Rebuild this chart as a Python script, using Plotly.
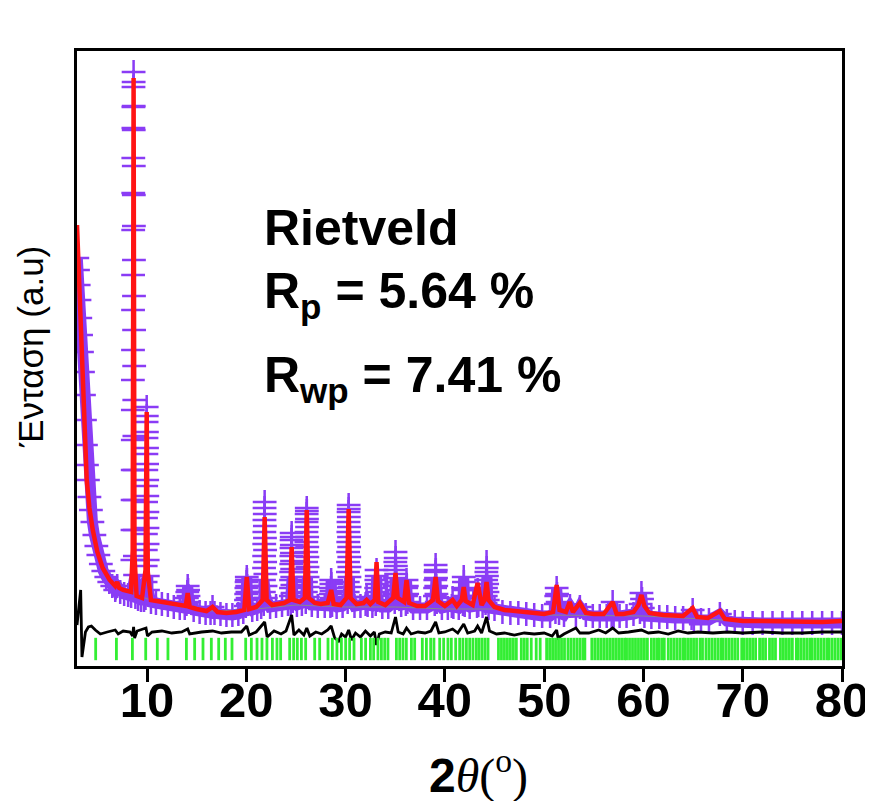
import plotly.graph_objects as go

# ---------------- data (2theta in degrees, intensity in arbitrary units) ----------------
calc_2theta = [2.95, 3.10, 3.30, 3.53, 3.75, 3.93, 4.20, 4.54, 5.00, 5.54, 6.24, 6.80, 7.00, 7.20, 7.60,
               8.00, 8.40, 8.56, 8.65, 8.74, 8.95, 9.50, 9.85, 9.97, 10.08, 10.40, 11.00, 12.00, 13.00,
               13.90, 14.10, 14.30, 15.00, 16.00, 16.60, 17.10, 18.00, 19.00, 19.80, 20.05, 20.30, 21.00,
               21.65, 21.85, 22.05, 22.60, 23.20, 23.80, 24.40, 24.57, 24.75, 25.40, 25.90, 26.09, 26.28,
               26.90, 27.50, 28.20, 28.55, 28.80, 29.50, 30.10, 30.31, 30.50, 31.10, 31.80, 32.12, 32.50,
               32.95, 33.12, 33.30, 34.00, 34.80, 35.03, 35.25, 35.90, 36.14, 36.40, 37.20, 38.00, 38.80,
               39.07, 39.30, 40.00, 40.78, 41.20, 41.70, 41.90, 42.10, 42.80, 43.30, 43.70, 44.00, 44.20,
               44.40, 45.00, 46.00, 47.00, 48.00, 49.00, 50.00, 50.90, 51.26, 51.55, 52.20, 52.57, 52.90,
               53.60, 54.20, 55.00, 56.00, 56.90, 57.30, 58.00, 59.00, 59.50, 59.80, 60.10, 60.60, 62.00,
               63.00, 64.00, 64.96, 65.40, 66.50, 67.70, 68.20, 70.00, 72.00, 75.00, 78.00, 80.00]
calc_intensity = [441, 398, 336, 286, 226, 186, 158, 136, 114, 98, 86, 80, 84, 78, 76,
                  75, 74, 116, 588, 111, 70, 68, 96, 254, 94, 66, 65, 63, 61,
                  60, 73, 59, 57, 55, 59, 54, 53, 54, 56, 89, 57, 59,
                  66, 149, 66, 61, 62, 63, 66, 119, 66, 64, 68, 156, 68,
                  63, 62, 63, 76, 62, 61, 68, 157, 68, 62, 63, 66, 62,
                  66, 104, 64, 61, 68, 93, 68, 64, 86, 63, 60, 60, 66,
                  89, 65, 60, 66, 60, 66, 79, 65, 61, 83, 61, 66, 84,
                  66, 59, 56, 55, 54, 53, 52, 54, 81, 56, 54, 64, 54,
                  63, 53, 52, 52, 64, 52, 52, 54, 61, 71, 60, 53, 51,
                  51, 50, 58, 49, 48, 55, 47, 45, 45, 44, 44, 45]

# observed points as (2theta, intensity) pairs
observed = [
    (2.98, 408), (3.05, 396), (3.12, 381), (3.20, 366), (3.28, 348), (3.36, 331), (3.45, 314),
    (3.55, 294), (3.65, 271), (3.75, 246), (3.85, 221), (3.95, 201), (4.05, 186), (4.20, 169),
    (4.35, 156), (4.50, 144), (4.70, 131), (4.90, 120), (5.10, 111), (5.35, 102), (5.60, 95),
    (5.90, 89), (6.20, 84), (6.50, 80), (6.80, 76), (7.00, 80), (7.30, 74), (7.70, 72), (8.10, 71),
    (8.40, 70),
    # reflection near 8.65
    (8.52, 76), (8.53, 106), (8.54, 136), (8.55, 166), (8.56, 196), (8.57, 226), (8.575, 256),
    (8.58, 286), (8.59, 316), (8.595, 356), (8.60, 391), (8.61, 436), (8.615, 473), (8.62, 508),
    (8.63, 538), (8.635, 559), (8.64, 579), (8.65, 594), (8.655, 584), (8.66, 560), (8.665, 536),
    (8.67, 500), (8.675, 471), (8.68, 440), (8.685, 406), (8.69, 370), (8.70, 336), (8.71, 300),
    (8.72, 266), (8.73, 230), (8.74, 196), (8.75, 166), (8.76, 136), (8.78, 110), (8.80, 91),
    (8.83, 69),
    (9.10, 67), (9.40, 66), (9.70, 66),
    # reflection near 9.97
    (9.85, 68), (9.86, 84), (9.87, 100), (9.88, 116), (9.89, 132), (9.90, 148), (9.91, 164),
    (9.92, 180), (9.93, 196), (9.94, 212), (9.95, 228), (9.96, 244), (9.97, 259), (9.98, 250),
    (9.99, 234), (10.00, 218), (10.01, 202), (10.02, 186), (10.03, 170), (10.04, 154), (10.05, 138),
    (10.06, 122), (10.07, 106), (10.08, 90), (10.10, 76),
    (10.40, 64), (10.90, 63), (11.50, 62), (12.10, 61), (12.70, 59), (13.30, 58), (13.80, 58),
    (13.98, 62), (14.02, 68), (14.06, 74), (14.10, 80), (14.14, 76), (14.18, 70), (14.22, 64),
    (14.70, 56), (15.30, 54), (15.90, 53), (16.40, 53), (16.60, 59), (16.80, 53), (17.40, 52),
    (18.00, 51), (18.60, 51), (19.20, 52), (19.70, 54),
    (19.95, 60), (19.97, 66), (19.99, 72), (20.01, 78), (20.03, 84), (20.05, 89), (20.07, 86),
    (20.09, 80), (20.11, 74), (20.13, 68), (20.16, 62),
    (20.60, 56), (21.10, 57), (21.50, 59),
    (21.76, 62), (21.77, 74), (21.78, 86), (21.79, 98), (21.80, 110), (21.81, 122), (21.82, 134),
    (21.83, 146), (21.84, 158), (21.85, 164), (21.86, 152), (21.87, 140), (21.88, 128), (21.89, 116),
    (21.90, 104), (21.92, 92), (21.94, 80), (21.96, 68),
    (22.40, 59), (23.00, 60), (23.60, 61), (24.20, 62),
    (24.48, 62), (24.49, 70), (24.50, 78), (24.51, 86), (24.52, 94), (24.53, 102), (24.54, 110),
    (24.55, 118), (24.56, 126), (24.57, 133), (24.58, 129), (24.59, 121), (24.60, 113), (24.61, 105),
    (24.62, 97), (24.63, 89), (24.64, 81), (24.66, 73), (24.68, 65),
    (25.10, 61), (25.60, 62),
    (25.99, 64), (26.00, 74), (26.01, 84), (26.02, 94), (26.03, 104), (26.04, 114), (26.05, 124),
    (26.06, 134), (26.07, 144), (26.08, 152), (26.09, 158), (26.10, 155), (26.11, 147), (26.12, 139),
    (26.13, 129), (26.14, 119), (26.15, 109), (26.16, 99), (26.17, 89), (26.19, 79), (26.21, 69),
    (26.60, 61), (27.20, 60), (27.90, 60),
    (28.47, 60), (28.49, 66), (28.51, 72), (28.53, 78), (28.55, 86), (28.57, 82), (28.59, 75),
    (28.61, 68), (28.64, 61),
    (29.10, 59), (29.70, 60),
    (30.21, 64), (30.22, 74), (30.23, 84), (30.24, 94), (30.25, 104), (30.26, 114), (30.27, 124),
    (30.28, 134), (30.29, 144), (30.30, 154), (30.31, 161), (30.32, 157), (30.33, 149), (30.34, 139),
    (30.35, 129), (30.36, 119), (30.37, 109), (30.38, 99), (30.39, 89), (30.41, 79), (30.43, 69),
    (30.90, 60), (31.50, 60), (32.02, 62), (32.12, 69), (32.22, 61), (32.70, 60),
    (33.04, 62), (33.06, 70), (33.08, 78), (33.10, 86), (33.12, 96), (33.14, 90), (33.16, 82),
    (33.18, 74), (33.21, 66),
    (33.70, 59), (34.30, 59),
    (34.95, 64), (34.96, 72), (34.97, 80), (34.98, 88), (34.99, 96), (35.01, 104), (35.03, 114),
    (35.05, 108), (35.07, 100), (35.09, 92), (35.11, 84), (35.14, 76), (35.17, 68),
    (35.60, 61),
    (36.07, 62), (36.09, 70), (36.11, 78), (36.14, 86), (36.17, 80), (36.20, 72), (36.23, 64),
    (36.80, 58), (37.50, 58), (38.20, 58),
    (38.98, 62), (39.00, 70), (39.02, 78), (39.04, 86), (39.06, 94), (39.07, 101), (39.09, 96),
    (39.11, 88), (39.13, 80), (39.15, 72), (39.18, 64),
    (39.70, 58), (40.30, 58), (40.70, 60), (40.78, 68), (40.86, 59), (41.40, 58),
    (41.82, 62), (41.84, 70), (41.87, 78), (41.90, 89), (41.92, 84), (41.94, 76), (41.97, 68),
    (42.00, 61),
    (42.50, 59), (43.24, 60), (43.27, 68), (43.30, 76), (43.33, 70), (43.37, 61), (43.80, 60),
    (44.10, 63), (44.12, 70), (44.14, 78), (44.16, 86), (44.18, 94), (44.20, 104), (44.22, 98),
    (44.24, 90), (44.26, 82), (44.29, 74), (44.32, 66), (44.40, 58),
    (45.00, 57), (45.80, 54), (46.60, 53), (47.40, 53), (48.20, 52), (49.00, 51), (49.80, 50),
    (50.60, 50),
    (51.14, 54), (51.18, 62), (51.22, 70), (51.26, 78), (51.30, 72), (51.36, 64), (51.50, 53),
    (52.00, 51), (52.60, 60), (53.20, 51), (53.60, 59), (54.20, 51), (54.90, 50), (55.60, 50),
    (56.30, 50), (56.80, 50), (56.90, 64), (57.00, 50), (57.60, 50), (58.30, 50), (59.00, 52),
    (59.65, 54), (59.72, 62), (59.80, 73), (59.86, 67), (59.94, 58), (60.10, 50),
    (60.80, 49), (61.60, 49), (62.40, 49), (63.20, 48), (64.00, 48), (64.85, 48), (64.96, 56),
    (65.08, 46), (65.80, 46), (66.60, 46), (67.70, 52), (68.40, 45), (69.20, 44), (70.00, 43),
    (71.00, 43), (72.00, 43), (73.00, 43), (74.00, 43), (75.00, 43), (76.00, 43), (77.00, 43),
    (78.00, 43), (79.00, 43), (80.00, 43),
]
obs_2theta = [p[0] for p in observed]
obs_intensity = [p[1] for p in observed]

background_2theta = [6.5, 8.0, 9.5, 11.0, 13.0, 16.0, 20.0, 25.0, 30.0, 35.0, 40.0, 45.0, 50.0, 60.0, 70.0, 80.0]
background_intensity = [82, 76, 69, 64, 60, 55, 56, 61, 59, 59, 57, 57, 51, 50, 45, 44]

diff_2theta = [2.95, 3.20, 3.32, 3.45, 3.60, 3.80, 4.10, 4.40, 4.80, 5.30, 6.00, 6.80, 7.10, 7.60, 8.30,
               8.55, 8.65, 8.75, 9.00, 9.90, 10.05, 10.50, 11.50, 12.50, 13.50, 14.10, 14.30, 15.50, 16.60,
               17.50, 18.50, 19.50, 20.05, 20.30, 21.00, 21.85, 22.10, 22.80, 23.50, 24.00, 24.57, 24.80,
               25.30, 25.80, 26.09, 26.40, 27.00, 27.60, 28.20, 28.55, 28.90, 29.30, 29.60, 30.00, 30.31,
               30.60, 31.00, 31.50, 32.00, 32.50, 32.90, 33.12, 33.40, 34.00, 34.60, 35.03, 35.30, 35.80,
               36.14, 36.60, 37.30, 38.00, 38.60, 39.07, 39.40, 40.00, 40.78, 41.30, 41.90, 42.30, 43.00,
               43.30, 43.70, 44.20, 44.50, 45.20, 46.00, 47.00, 48.00, 49.00, 50.00, 50.80, 51.26, 51.40,
               52.00, 53.20, 53.60, 54.50, 55.50, 56.20, 56.90, 57.50, 58.50, 59.80, 60.50, 61.50, 62.50,
               63.50, 64.50, 65.50, 67.00, 68.50, 70.00, 72.00, 74.00, 76.00, 78.00, 80.00]
diff_intensity = [41, 66, 76, 9, 21, 34, 39, 40, 36, 32, 34, 36, 32, 35, 34,
                  30, 39, 28, 35, 38, 30, 34, 35, 33, 34, 37, 32, 34, 35,
                  33, 34, 34, 40, 31, 34, 44, 29, 35, 32, 35, 51, 31,
                  36, 31, 38, 30, 34, 32, 36, 40, 28, 25, 32, 29, 36,
                  26, 33, 29, 35, 30, 34, 21, 32, 34, 33, 49, 34, 32,
                  38, 32, 34, 33, 35, 44, 33, 34, 37, 33, 42, 33, 35,
                  40, 33, 49, 35, 32, 33, 31, 33, 32, 33, 30, 36, 28,
                  32, 38, 33, 33, 36, 33, 38, 33, 34, 36, 33, 34, 32,
                  35, 33, 34, 33, 34, 33, 34, 33, 33, 34, 34]

bragg_2theta = [4.83, 6.92, 8.53, 9.87, 11.04, 12.11, 13.97, 14.80, 15.64, 16.48, 17.22, 17.89, 18.56,
                19.94, 20.51, 21.08, 21.58, 22.08, 22.63, 23.09, 23.46, 24.37, 24.77, 25.14, 25.55, 25.98,
                26.89, 27.39, 28.23, 28.67, 29.13, 29.58, 30.01, 30.41, 30.85, 31.59, 32.02, 32.50, 32.83,
                33.26, 33.61, 33.94, 34.27, 35.12, 35.45, 35.78, 36.12, 36.63, 36.96, 37.73, 38.14, 38.57,
                38.90, 39.48, 39.88, 40.31, 40.65, 41.09, 41.49, 41.82, 42.17, 42.50, 42.83, 43.17,
                43.45, 43.75, 44.05, 44.35,
                45.4, 45.7, 46.0, 46.3, 46.6, 46.9, 47.2, 47.7, 48.0, 48.3, 48.7, 49.2, 49.6,
                50.25, 50.55, 50.85, 51.15, 51.45, 51.75, 52.05, 52.4, 52.7, 53.0, 53.3, 53.6, 53.9, 54.1,
                54.8, 55.1, 55.4, 55.7, 56.0, 56.3, 56.6, 56.9, 57.2, 57.5, 57.8, 58.1, 58.3,
                58.6, 58.9, 59.2, 59.5, 59.8, 60.1, 60.4, 60.8, 61.1, 61.4, 61.6, 61.9, 62.1,
                62.5, 62.8, 63.1, 63.4, 63.7, 64.0, 64.15, 64.45, 64.75, 65.05, 65.35, 65.7, 65.95,
                66.3, 66.6, 66.9, 67.2, 67.5, 67.8, 68.0, 68.3, 68.6, 68.9, 69.2, 69.5, 69.9,
                70.1, 70.4, 70.7, 71.0, 71.3, 71.7, 72.0, 72.3, 72.7, 73.0, 73.3,
                73.8, 74.1, 74.4, 74.7, 75.0, 75.4, 75.6, 75.9, 76.2, 76.5, 76.8, 77.0,
                77.3, 77.6, 77.9, 78.2, 78.5, 78.7, 79.0, 79.3, 79.6, 79.9]
bragg_level = 17

x_tick_values = [10, 20, 30, 40, 50, 60, 70, 80]
x_tick_labels = ["10", "20", "30", "40", "50", "60", "70", "80"]

# ---------------- styling ----------------
PURPLE = "#8A3CF5"
RED = "#FF1414"
GREEN = "#33EE33"
SANS = "Liberation Sans, Arial, sans-serif"

# the page body adds an 8px margin, so the figure is drawn 8px smaller and offset
OFF = 8
W, H = 873 - OFF, 801 - OFF
L, R, T, B = 77 - OFF, 842 - OFF, 51 - OFF, 666 - OFF


def paper_x(px):
    return (px - OFF - L) / (R - L)


def paper_y(py):
    return (B - (py - OFF)) / (B - T)


# the dense observed band: observed points that are not on the steep flanks of big reflections
band_pts = [(t, i) for t, i in observed if t < 8.45 or i < 92]
band_2theta = [p[0] for p in band_pts]
band_intensity = [p[1] for p in band_pts]

fig = go.Figure()
fig.add_trace(go.Scatter(
    x=band_2theta, y=band_intensity, mode="lines",
    line=dict(color=PURPLE, width=11),
    hoverinfo="skip", showlegend=False))
fig.add_trace(go.Scatter(
    x=obs_2theta, y=obs_intensity, mode="markers",
    marker=dict(symbol="cross-thin", size=17, color=PURPLE, line=dict(color=PURPLE, width=2.5)),
    hoverinfo="skip", showlegend=False))
fig.add_trace(go.Scatter(
    x=background_2theta, y=background_intensity, mode="lines",
    line=dict(color="#8a8a8a", width=1), hoverinfo="skip", showlegend=False))
fig.add_trace(go.Scatter(
    x=calc_2theta, y=calc_intensity, mode="lines",
    line=dict(color=RED, width=4.5), hoverinfo="skip", showlegend=False))
fig.add_trace(go.Scatter(
    x=diff_2theta, y=diff_intensity, mode="lines",
    line=dict(color="black", width=2.8), hoverinfo="skip", showlegend=False))
fig.add_trace(go.Scatter(
    x=bragg_2theta, y=[bragg_level] * len(bragg_2theta), mode="markers",
    marker=dict(symbol="line-ns", size=16, color=GREEN, line=dict(color=GREEN, width=2.8)),
    hoverinfo="skip", showlegend=False))

fig.update_layout(
    width=W, height=H,
    margin=dict(l=L, r=W - R, t=T, b=H - B, pad=0, autoexpand=False),
    paper_bgcolor="white", plot_bgcolor="white",
    font=dict(family=SANS, color="black"),
    showlegend=False,
)
fig.update_xaxes(
    range=[2.95, 80], tickmode="array", tickvals=x_tick_values, ticktext=x_tick_labels,
    ticks="outside", ticklen=13, tickwidth=2.5, tickcolor="black",
    tickfont=dict(family=SANS, size=49, color="black", weight="bold"),
    ticklabelstandoff=-24,
    showline=True, linewidth=3, linecolor="black", mirror=True,
    showgrid=False, zeroline=False, automargin=False,
)
fig.update_yaxes(
    range=[0, 615], showticklabels=False, ticks="",
    showline=True, linewidth=3, linecolor="black", mirror=True,
    showgrid=False, zeroline=False, automargin=False,
)

text_font = dict(family=SANS, size=50, color="black")
fig.add_annotation(text="<b>Rietveld</b>", xref="paper", yref="paper",
                   x=paper_x(262), y=paper_y(228.5), xanchor="left", yanchor="middle",
                   showarrow=False, font=text_font)
fig.add_annotation(text="<b>R<sub>p</sub> = 5.64 %</b>", xref="paper", yref="paper",
                   x=paper_x(262), y=paper_y(294), xanchor="left", yanchor="middle",
                   showarrow=False, font=text_font)
fig.add_annotation(text="<b>R<sub>wp</sub> = 7.41 %</b>", xref="paper", yref="paper",
                   x=paper_x(262), y=paper_y(378), xanchor="left", yanchor="middle",
                   showarrow=False, font=text_font)

fig.add_annotation(text="Ένταση (a.u)", xref="paper", yref="paper",
                   x=paper_x(30), y=paper_y(347), xanchor="center", yanchor="middle",
                   textangle=-90, showarrow=False,
                   font=dict(family=SANS, size=35, color="black"))

fig.add_annotation(
    text=("<b>2</b><span style='font-family:Liberation Serif'><i>θ</i>(<sup>o</sup>)</span>"),
    xref="paper", yref="paper", x=paper_x(478), y=paper_y(772),
    xanchor="center", yanchor="middle", showarrow=False,
    font=dict(family=SANS, size=48, color="black"))

fig.write_html("out.html")
